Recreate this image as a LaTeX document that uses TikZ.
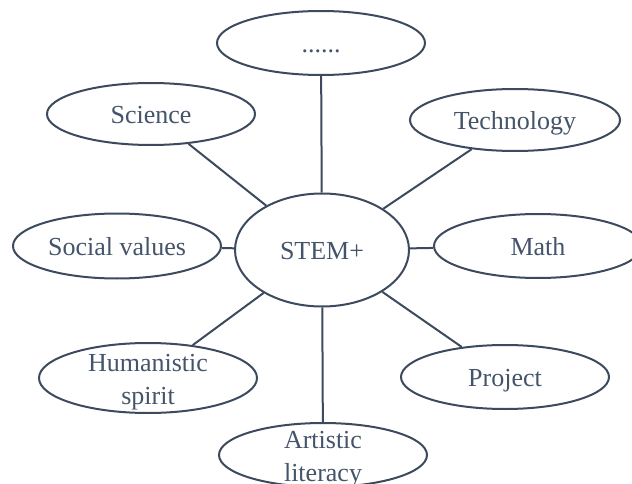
\documentclass[tikz,border=0pt]{standalone}
\usepackage{fontspec}
\setmainfont{Liberation Serif}
\usetikzlibrary{shapes.geometric}

\definecolor{ink}{HTML}{44546A}
\definecolor{rim}{HTML}{3D4A5E}

\tikzset{
  bubble/.style={ellipse, draw=rim, line width=2pt, fill=white, inner sep=0pt,
    minimum width=208pt, minimum height=64pt},
  word/.style={text=ink, font=\fontsize{26}{33}\selectfont, align=center, yshift=-3pt},
  spoke/.style={draw=rim, line width=2pt},
}

\begin{document}
\begin{tikzpicture}[x=1pt, y=1pt]
  \useasboundingbox (0,0) rectangle (632,-484);
  % hub and the eight fields round it
  \node[bubble, minimum width=174pt, minimum height=113pt,
    label={[word]center:\strut STEM+}] (stem) at (322,-250) {};
  \node[bubble, label={[word]center:\strut ......}] (dots) at (321,-43) {};
  \node[bubble, minimum height=62pt, label={[word]center:\strut Science}] (sci) at (151,-114) {};
  \node[bubble, minimum width=210pt, minimum height=62pt,
    label={[word]center:\strut Technology}] (tech) at (515,-120) {};
  \node[bubble, minimum height=65pt, label={[word]center:\strut Social values}] (soc) at (117,-246) {};
  \node[bubble, label={[word]center:\strut Math}] (math) at (538,-246) {};
  \node[bubble, minimum width=218pt, minimum height=70pt,
    label={[word]center:\strut Humanistic\\\strut spirit}] (hum) at (148,-378) {};
  \node[bubble, label={[word]center:\strut Project}] (proj) at (505,-377) {};
  \node[bubble, label={[word]center:\strut Artistic\\\strut literacy}] (art) at (323,-455) {};

  \foreach \n in {dots,sci,tech,soc,math,hum,proj,art}
    \draw[spoke] (stem) -- (\n);
\end{tikzpicture}
\end{document}
